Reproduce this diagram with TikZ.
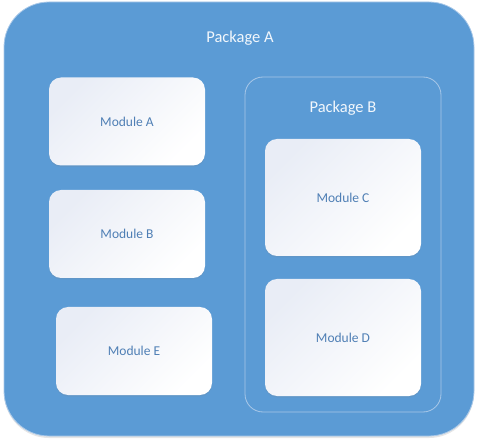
\documentclass[tikz,border=0pt]{standalone}
\usepackage{fontspec}
\setmainfont{Carlito}
\usepackage{xcolor}
\usetikzlibrary{shadows}
\definecolor{pkgblue}{HTML}{5B9BD5}
\definecolor{pkgline}{HTML}{A9C8E8}
\definecolor{modtext}{HTML}{4F7FB5}
\definecolor{modshade}{HTML}{E9EDF6}
\tikzset{
packagenodev1/.style={rectangle, rounded corners=45pt, draw=pkgline, fill=pkgblue, line width=0.8pt, inner sep=0pt, minimum width=470pt, minimum height=434pt, drop shadow={shadow xshift=0pt, shadow yshift=-2pt, opacity=0.2}},
packagenodev2/.style={rectangle, rounded corners=18pt, draw=pkgline, fill=none, line width=0.8pt, inner sep=0pt, minimum width=196pt, minimum height=335pt},
modulenode/.style={rectangle, rounded corners=12pt, draw=none, top color=modshade, bottom color=white, shading angle=45, inner sep=0pt, minimum width=156pt, minimum height=88pt, font=\fontsize{13.5}{16}\selectfont, text=modtext, drop shadow={shadow xshift=0pt, shadow yshift=-1.5pt, opacity=0.15}},
pkglabel/.style={font=\fontsize{16.5}{20}\selectfont, text=white!92!pkgblue},
}

\begin{document}
\begin{tikzpicture}[x=1pt,y=-1pt]
\useasboundingbox (0,0) rectangle (480,441);
\node[packagenodev1] at (239,219) (pkga) {};
\node[pkglabel] at (240,38) (pkgalabel) {Package A};
\node[packagenodev2] at (343,244.5) (pkgb) {};
\node[pkglabel] at (343,108) (pkgblabel) {Package B};

\node[modulenode] at (127,121.5) (moda) {Module A};
\node[modulenode] at (127,234) (modb) {Module B};
\node[modulenode] at (134,351) (mode) {Module E};
\node[modulenode, minimum height=117pt] at (343,197.5) (modc) {Module C};
\node[modulenode, minimum height=117pt] at (343,337.5) (modd) {Module D};
\end{tikzpicture}
\end{document}
